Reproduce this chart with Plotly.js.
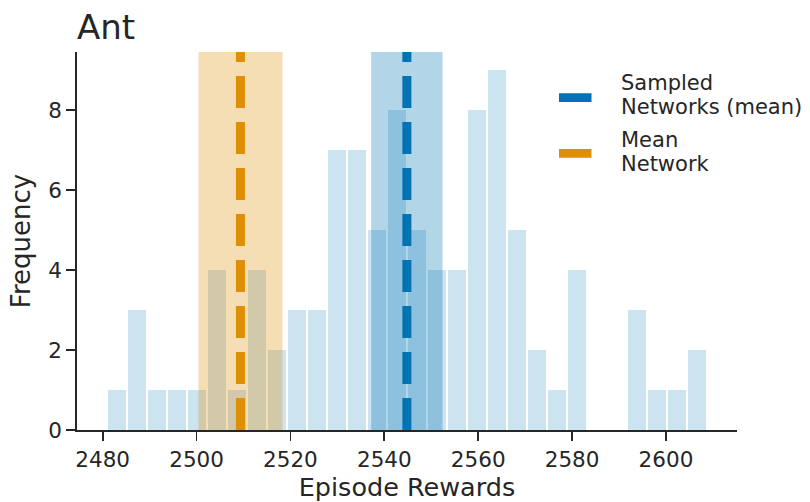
<!DOCTYPE html>
<html>
<head>
<meta charset="utf-8">
<script src="https://cdn.plot.ly/plotly-3.0.1.min.js"></script>
<style>html,body{margin:0;padding:0;background:#fff;}#chart{width:810px;height:502px;}</style>
</head>
<body>
<div id="chart"></div>
<script>
// Histogram of episode rewards (30 bins)
const binStart = 2480.92;
const binWidth = 4.26;
const counts = [1,3,1,1,1,4,1,4,2,3,3,7,7,5,8,5,4,4,8,9,5,2,1,4,0,0,3,1,1,2];

// Means and spread bands
const seriesNames = ["Sampled Networks (mean)", "Mean Network"];
const legendLines = [["Sampled", "Networks (mean)"], ["Mean", "Network"]];
const seriesMeans = [2544.8, 2509.35];
const seriesHalfWidths = [7.6, 8.95];
const seriesColors = ["#0173b2", "#de8f05"];
const bandColors = ["rgba(1,115,178,0.3)", "rgba(222,143,5,0.3)"];

const xTicks = [2480, 2500, 2520, 2540, 2560, 2580, 2600];
const yTicks = [0, 2, 4, 6, 8];
const yMax = 9.45;
const xRange = [2474.53, 2615.13];

const W = 810, H = 502, ML = 77, MR = 73, MT = 52, MB = 72;
const PW = W - ML - MR, PH = H - MT - MB;
const px = x => (x - ML) / PW;          // pixel -> paper x
const py = y => (H - MB - y) / PH;      // pixel -> paper y

const centers = counts.map((_, i) => binStart + binWidth * (i + 0.5));
const textColor = "#262626";
const font = "DejaVu Sans, sans-serif";

const traces = [];
traces.push({
  type: "bar", x: centers, y: counts, width: binWidth * 0.87,
  marker: {color: "rgba(1,115,178,0.2)", line: {width: 0}},
  showlegend: false, hoverinfo: "skip"
});
[1, 0].forEach(i => {
  const lo = seriesMeans[i] - seriesHalfWidths[i], hi = seriesMeans[i] + seriesHalfWidths[i];
  traces.push({
    type: "scatter", mode: "lines", x: [lo, hi, hi, lo, lo], y: [0, 0, yMax, yMax, 0],
    fill: "toself", fillcolor: bandColors[i], line: {width: 0},
    showlegend: false, hoverinfo: "skip"
  });
});
[0, 1].forEach(i => {
  traces.push({
    type: "scatter", mode: "lines", x: [seriesMeans[i], seriesMeans[i]], y: [0, yMax],
    name: seriesNames[i], showlegend: false,
    line: {color: seriesColors[i], width: 9, dash: "32px,14px"}
  });
});

// Hand-built legend (swatches + text lines)
const shapes = [];
const annotations = [];
const swatchY = [97.7, 153.3];
const textCenters = [[83.1, 107.4], [139.8, 164.1]];
[0, 1].forEach(i => {
  shapes.push({type: "line", xref: "paper", yref: "paper", x0: px(559), x1: px(591.5),
    y0: py(swatchY[i]), y1: py(swatchY[i]), line: {color: seriesColors[i], width: 8.7}});
  legendLines[i].forEach((t, j) => {
    annotations.push({text: t, xref: "paper", yref: "paper", x: px(619), y: py(textCenters[i][j]),
      xanchor: "left", yanchor: "middle", showarrow: false, align: "left",
      font: {family: font, size: 21, color: textColor}});
  });
});

const axisCommon = {
  showgrid: false, zeroline: false, showline: true, linecolor: textColor, linewidth: 1.7,
  ticks: "outside", ticklen: 9, tickwidth: 1.7, tickcolor: textColor, automargin: false,
  tickfont: {family: font, size: 21.5, color: textColor}
};

const layout = {
  width: W, height: H,
  margin: {l: ML, r: MR, t: MT, b: MB, autoexpand: false},
  paper_bgcolor: "#fff", plot_bgcolor: "#fff",
  font: {family: font, color: textColor},
  title: {text: "Ant", x: 0, xref: "paper", xanchor: "left", y: 1, yref: "paper", yanchor: "bottom",
          pad: {b: 13}, font: {family: font, size: 34, color: textColor}},
  xaxis: Object.assign({}, axisCommon, {
    range: xRange, tickvals: xTicks, ticktext: xTicks.map(String),
    title: {text: "Episode Rewards", font: {family: font, size: 25.5, color: textColor}, standoff: 9}
  }),
  yaxis: Object.assign({}, axisCommon, {
    range: [0, yMax], tickvals: yTicks, ticktext: yTicks.map(String),
    title: {text: "Frequency", font: {family: font, size: 26, color: textColor}, standoff: 10}
  }),
  showlegend: false,
  shapes: shapes,
  annotations: annotations,
  bargap: 0
};

Plotly.newPlot("chart", traces, layout, {displayModeBar: false, staticPlot: true});
</script>
</body>
</html>
